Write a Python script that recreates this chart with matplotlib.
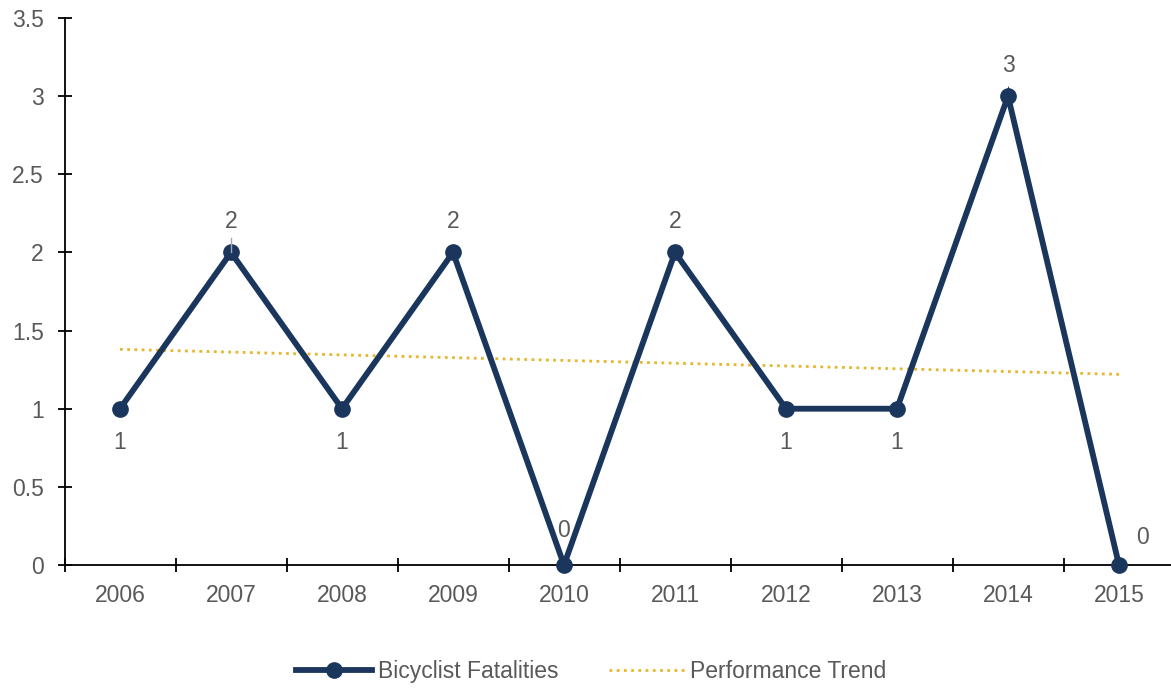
import matplotlib
matplotlib.use("Agg")
import matplotlib.pyplot as plt

years = ["2006", "2007", "2008", "2009", "2010", "2011", "2012", "2013", "2014", "2015"]
fatalities = [1, 2, 1, 2, 0, 2, 1, 1, 3, 0]
trend_ends = [1.38, 1.22]  # trend line at first and last year
yticks = [0, 0.5, 1, 1.5, 2, 2.5, 3, 3.5]
ytick_labels = ["0", "0.5", "1", "1.5", "2", "2.5", "3", "3.5"]

navy = "#1b365d"
gold = "#e3b82f"
grey = "#595959"
fs = 16.5

plt.rcParams["font.family"] = ["Liberation Sans", "DejaVu Sans"]

fig = plt.figure(figsize=(11.71, 6.88), dpi=100)
ax = fig.add_axes([64.5 / 1171, 123 / 688, 1110 / 1171, 547 / 688])

x = list(range(len(years)))
ax.plot(x, fatalities, color=navy, lw=4.2, marker="o", ms=11,
        solid_joinstyle="miter", label="Bicyclist Fatalities", zorder=3, clip_on=False)
ax.plot([x[0], x[-1]], trend_ends, color=gold, lw=2, ls=(0, (1, 1.6)),
        label="Performance Trend", zorder=2)

# data labels
for i, v in enumerate(fatalities):
    if i == len(years) - 1:
        off = (17, 20)
    elif v == 1:
        off = (0, -24)
    elif v == 0:
        off = (0, 25)
    else:
        off = (0, 22)
    ax.annotate(str(v), (i, v), xytext=off, textcoords="offset points",
                ha="center", va="center", fontsize=fs, color=grey)

# small leader line at 2007
ax.plot([1, 1], [2, 2.09], color="#a6a6a6", lw=1, zorder=4)

ax.set_xlim(-0.5, len(years) - 0.5)
ax.set_ylim(0, 3.5)
ax.set_yticks(yticks)
ax.set_yticklabels(ytick_labels)
ax.set_xticks(x)
ax.set_xticklabels(years)
ax.set_xticks([i + 0.5 for i in range(-1, len(years))], minor=True)

for s in ["top", "right"]:
    ax.spines[s].set_visible(False)
ax.spines["left"].set_linewidth(1.3)
ax.spines["bottom"].set_linewidth(1.3)

ax.tick_params(axis="y", direction="inout", length=10, width=1.3,
               labelsize=fs, labelcolor=grey, pad=10)
ax.tick_params(axis="x", which="major", length=0, labelsize=fs,
               labelcolor=grey, pad=14)
ax.tick_params(axis="x", which="minor", direction="inout", length=10, width=1.3)

leg = fig.legend(loc="lower center", bbox_to_anchor=(0.505, -0.023), ncol=2,
                 frameon=False, fontsize=fs, handlelength=3.3, columnspacing=2.2,
                 handletextpad=0.25)
for t in leg.get_texts():
    t.set_color(grey)

fig.savefig("out.png", dpi=100)
